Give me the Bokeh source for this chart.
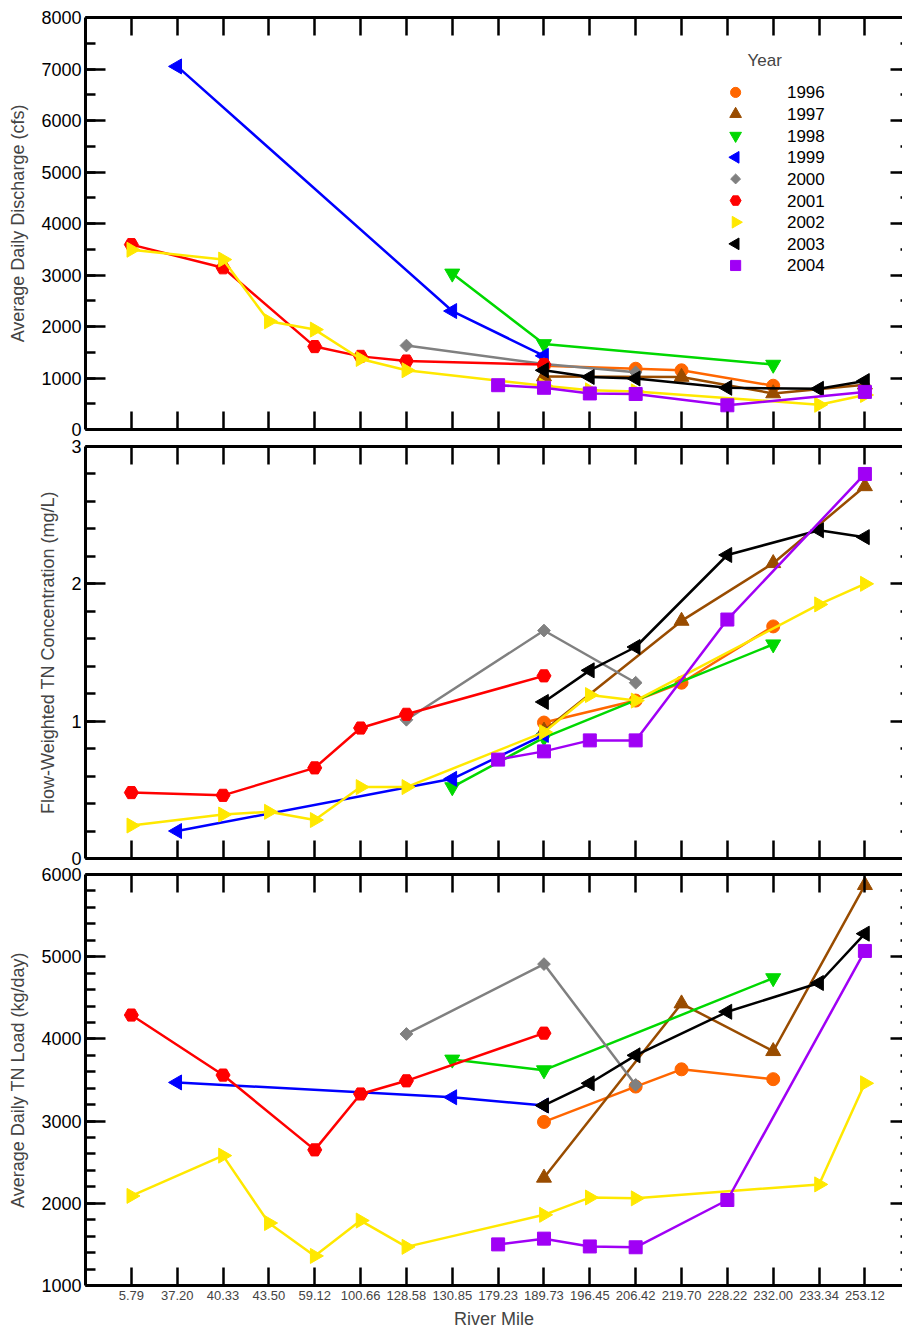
import math

from bokeh.plotting import figure
from bokeh.layouts import column
from bokeh.core.properties import value
from bokeh.models import (LinearAxis, FixedTicker, SingleIntervalTicker, Range1d, Label)
from bokeh.embed import file_html
from bokeh.resources import INLINE

# Sampling stations (river mile), shown as evenly spaced categories
river_miles = ["5.79", "37.20", "40.33", "43.50", "59.12", "100.66", "128.58",
               "130.85", "179.23", "189.73", "196.45", "206.42", "219.70",
               "228.22", "232.00", "233.34", "253.12"]

years = ["1996", "1997", "1998", "1999", "2000", "2001", "2002", "2003", "2004"]

# Stations sampled in each year
sites_1996 = ["189.73", "206.42", "219.70", "232.00"]
sites_1997 = ["189.73", "219.70", "232.00", "253.12"]
sites_1998 = ["130.85", "189.73", "232.00"]
sites_1999 = ["37.20", "130.85", "189.73"]
sites_2000 = ["128.58", "189.73", "206.42"]
sites_2001 = ["5.79", "40.33", "59.12", "100.66", "128.58", "189.73"]
sites_2002 = ["5.79", "40.33", "43.50", "59.12", "100.66", "128.58", "189.73",
              "196.45", "206.42", "233.34", "253.12"]
sites_2003 = ["189.73", "196.45", "206.42", "228.22", "233.34", "253.12"]
sites_2004 = ["179.23", "189.73", "196.45", "206.42", "228.22", "253.12"]

# Average daily discharge (cfs)
flow_1996 = [1240, 1180, 1150, 850]
flow_1997 = [1030, 1020, 700, 870]
flow_1998 = [3030, 1660, 1260]
flow_1999 = [7050, 2300, 1430]
flow_2000 = [1630, 1270, 1110]
flow_2001 = [3590, 3140, 1610, 1420, 1330, 1260]
flow_2002 = [3490, 3300, 2100, 1940, 1370, 1150, 850, 760, 740, 480, 670]
flow_2003 = [1150, 1020, 990, 810, 790, 940]
flow_2004 = [860, 810, 700, 690, 470, 730]

# Flow-weighted TN concentration (mg/L)
conc_1996 = [0.99, 1.15, 1.28, 1.69]
conc_1997 = [0.93, 1.73, 2.15, 2.71]
conc_1998 = [0.52, 0.88, 1.56]
conc_1999 = [0.20, 0.58, 0.90]
conc_2000 = [1.01, 1.66, 1.28]
conc_2001 = [0.48, 0.46, 0.66, 0.95, 1.05, 1.33]
conc_2002 = [0.24, 0.32, 0.34, 0.28, 0.52, 0.52, 0.92, 1.19, 1.15, 1.85, 2.00]
conc_2003 = [1.14, 1.37, 1.54, 2.21, 2.39, 2.34]
conc_2004 = [0.72, 0.78, 0.86, 0.86, 1.74, 2.80]

# Average daily TN load (kg/day)
load_1996 = [2990, 3420, 3630, 3510]
load_1997 = [2310, 4430, 3850, 5870]
load_1998 = [3750, 3620, 4740]
load_1999 = [3470, 3290, 3190]
load_2000 = [4060, 4910, 3440]
load_2001 = [4290, 3560, 2650, 3330, 3490, 4070]
load_2002 = [2090, 2580, 1760, 1360, 1790, 1470, 1860, 2070, 2060, 2230, 3460]
load_2003 = [3190, 3460, 3800, 4330, 4680, 5280]
load_2004 = [1500, 1570, 1475, 1465, 2040, 5070]

sites = dict(zip(years, [sites_1996, sites_1997, sites_1998, sites_1999, sites_2000,
                         sites_2001, sites_2002, sites_2003, sites_2004]))
flow = dict(zip(years, [flow_1996, flow_1997, flow_1998, flow_1999, flow_2000,
                        flow_2001, flow_2002, flow_2003, flow_2004]))
conc = dict(zip(years, [conc_1996, conc_1997, conc_1998, conc_1999, conc_2000,
                        conc_2001, conc_2002, conc_2003, conc_2004]))
load = dict(zip(years, [load_1996, load_1997, load_1998, load_1999, load_2000,
                        load_2001, load_2002, load_2003, load_2004]))

# Marker styling per year: (marker, colour, angle, size)
style = {
    "1996": ("circle", "#FF6600", 0.0, 13),
    "1997": ("triangle", "#994C00", 0.0, 15),
    "1998": ("inverted_triangle", "#00D800", 0.0, 15),
    "1999": ("triangle", "#0000FF", math.pi / 2, 15),
    "2000": ("square", "#808080", math.pi / 4, 9),
    "2001": ("hex", "#FF0000", 0.0, 14),
    "2002": ("triangle", "#FFE800", -math.pi / 2, 15),
    "2003": ("triangle", "#000000", math.pi / 2, 15),
    "2004": ("square", "#A000F5", 0.0, 13),
}

FONT = "Liberation Sans"
N = len(river_miles)
X_END = 17.82
x_ticks = list(range(1, N + 1))
x_labels = {i + 1: m for i, m in enumerate(river_miles)}


def station_x(names):
    return [river_miles.index(n) + 1 for n in names]


def hide_labels(ax):
    ax.major_label_text_color = None
    ax.major_label_text_font_size = "1px"
    ax.major_label_standoff = 0


def make_panel(height, top, bottom, y0, y1, interval, n_minor, ylabel, show_x):
    p = figure(width=902, height=height, output_backend="svg", toolbar_location=None,
               x_range=Range1d(0, X_END), y_range=Range1d(y0, y1),
               x_axis_location=None, y_axis_location=None,
               min_border_left=85, min_border_right=0,
               min_border_top=top, min_border_bottom=bottom)
    p.outline_line_color = None
    p.grid.visible = False
    p.background_fill_color = "white"
    p.border_fill_color = "white"

    def y_ticker():
        return SingleIntervalTicker(interval=interval, num_minor_ticks=n_minor)

    left = LinearAxis(ticker=y_ticker(), axis_label=ylabel)
    left.axis_line_width = 3
    left.major_tick_line_width = 2.5
    left.minor_tick_line_width = 2.5
    left.major_tick_in = 20
    left.major_tick_out = 0
    left.minor_tick_in = 10
    left.minor_tick_out = 0
    left.major_label_standoff = 4
    left.major_label_text_font = FONT
    left.major_label_text_font_size = "18px"
    left.major_label_text_color = "black"
    left.axis_label_text_font = FONT
    left.axis_label_text_font_size = "18px"
    left.axis_label_text_font_style = "normal"
    left.axis_label_standoff = 10
    p.add_layout(left, "left")

    right = LinearAxis(ticker=y_ticker())
    right.axis_line_color = None
    right.major_tick_line_width = 2.5
    right.minor_tick_line_width = 2.5
    right.major_tick_in = 12
    right.major_tick_out = 0
    right.minor_tick_in = 2
    right.minor_tick_out = 0
    hide_labels(right)
    p.add_layout(right, "right")

    for loc in ("above", "below"):
        ax = LinearAxis(ticker=FixedTicker(ticks=x_ticks, minor_ticks=[]))
        ax.axis_line_width = 3
        ax.major_tick_line_width = 2.5
        ax.major_tick_in = 18
        ax.major_tick_out = 0
        if loc == "below" and show_x:
            ax.major_label_overrides = x_labels
            ax.major_label_text_font = FONT
            ax.major_label_text_font_size = "13px"
            ax.major_label_standoff = 5
            ax.axis_label = "River Mile"
            ax.axis_label_text_font = FONT
            ax.axis_label_text_font_size = "18px"
            ax.axis_label_text_font_style = "normal"
            ax.axis_label_standoff = 6
        else:
            hide_labels(ax)
        p.add_layout(ax, loc)
    return p


def draw_series(p, values):
    for yr in years:
        marker, color, angle, size = style[yr]
        xs = station_x(sites[yr])
        ys = values[yr]
        p.line(xs, ys, line_color=color, line_width=2.5)
        p.scatter(xs, ys, marker=marker, size=size, angle=angle,
                  fill_color=color, line_color=color)


p1 = make_panel(438, 17, 9, 0, 8000, 1000, 2, "Average Daily Discharge (cfs)", False)
p2 = make_panel(428, 8, 8, 0, 3, 1, 5, "Flow-Weighted TN Concentration (mg/L)", False)
p3 = make_panel(465, 8, 45, 1000, 6000, 1000, 5, "Average Daily TN Load (kg/day)", True)

draw_series(p1, flow)
draw_series(p2, conc)
draw_series(p3, load)

# Year key in the upper-right corner of the discharge panel (data coordinates)
key_marker_x = 14.18
key_text_x = 15.30
key_top = 6545
key_step = 420
key_y = [key_top - i * key_step for i in range(len(years))]
key_scale = 0.78
p1.scatter([key_marker_x] * len(years), key_y,
           marker=[style[yr][0] for yr in years],
           angle=[style[yr][2] for yr in years],
           size=[style[yr][3] * key_scale for yr in years],
           fill_color=[style[yr][1] for yr in years],
           line_color=[style[yr][1] for yr in years])
p1.text([key_text_x] * len(years), key_y, text=years,
        text_font=value(FONT), text_font_size="17px",
        text_baseline="middle", text_align="left", text_color="black")
p1.add_layout(Label(x=14.44, y=7170, text="Year", text_font=FONT,
                    text_font_size="17px", text_baseline="middle", text_align="left"))

layout = column(p1, p2, p3, spacing=0)
open("out.html", "w").write(file_html(layout, INLINE))
